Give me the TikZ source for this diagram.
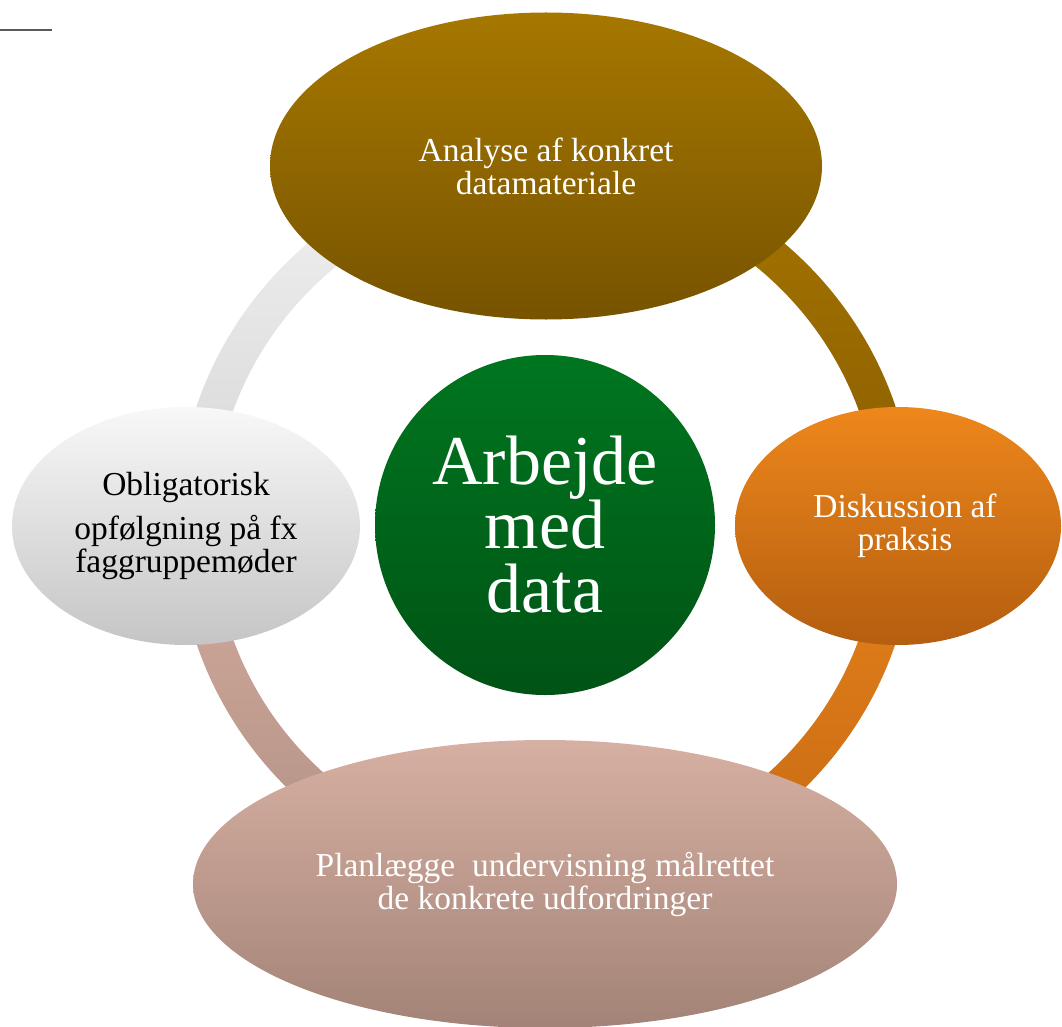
\documentclass[tikz,border=0pt]{standalone}
\usepackage{fontspec}
\setmainfont{Liberation Serif}
\usetikzlibrary{shapes.geometric,calc}

\definecolor{brownA}{HTML}{A67800}
\definecolor{brownB}{HTML}{775300}
\definecolor{orangeA}{HTML}{EE871B}
\definecolor{orangeB}{HTML}{B45E10}
\definecolor{roseA}{HTML}{D6B0A2}
\definecolor{roseB}{HTML}{A38377}
\definecolor{greyA}{HTML}{F8F8F8}
\definecolor{greyB}{HTML}{C5C5C5}
\definecolor{greenA}{HTML}{00761F}
\definecolor{greenB}{HTML}{005315}

\begin{document}
\begin{tikzpicture}[x=1pt,y=1pt,
    blob/.style={ellipse,inner sep=0pt,align=center,text=white,
      font=\fontsize{33.5}{33}\selectfont}]
  \useasboundingbox (0,0) rectangle (1062,-1027);

  \coordinate (c) at (546,-525);

  % ring pieces between the ellipses
  \foreach \a/\b/\ctop/\cbot in {90/0/A57400/8A5E00,
                                 0/-90/E5821B/C76913,
                                 -90/-180/D3AB9C/B09085,
                                 180/90/F2F2F2/D5D5D5}
  {
    \definecolor{ct}{HTML}{\ctop}
    \definecolor{cb}{HTML}{\cbot}
    \shade[top color=ct,bottom color=cb]
      ($(c)+(\a:369)$) arc[start angle=\a,end angle=\b,radius=369]
      -- ($(c)+(\b:333)$) arc[start angle=\b,end angle=\a,radius=333]
      -- cycle;
  }

  \node[blob,minimum width=552pt,minimum height=307pt,
        top color=brownA,bottom color=brownB]
    (analyse) at (546,-166) {Analyse af konkret\\datamateriale};

  \node[blob,minimum width=326pt,minimum height=238pt,
        top color=orangeA,bottom color=orangeB]
    (diskussion) at (898,-526) {\hspace*{14pt}Diskussion af\\\hspace*{14pt}praksis};

  \node[blob,minimum width=704pt,minimum height=288pt,
        top color=roseA,bottom color=roseB]
    (planlaegge) at (545,-884)
    {Planlægge\ \ undervisning målrettet\\de konkrete udfordringer};

  \node[blob,text=black,minimum width=348pt,minimum height=238pt,
        top color=greyA,bottom color=greyB]
    (opfoelgning) at (186,-526)
    {Obligatorisk\\[11pt]opfølgning på fx\\faggruppemøder};

  \node[circle,inner sep=0pt,minimum size=340pt,align=center,text=white,
        top color=greenA,bottom color=greenB,
        font=\fontsize{70}{64}\selectfont]
    (data) at (545,-525) {Arbejde\\med\\data};

  {
    \coordinate (streg1) at (0,-30);
    \coordinate (streg2) at (52,-30);
    \draw[line width=2pt,color=black!65] (streg1) -- (streg2);
  }
\end{tikzpicture}
\end{document}
